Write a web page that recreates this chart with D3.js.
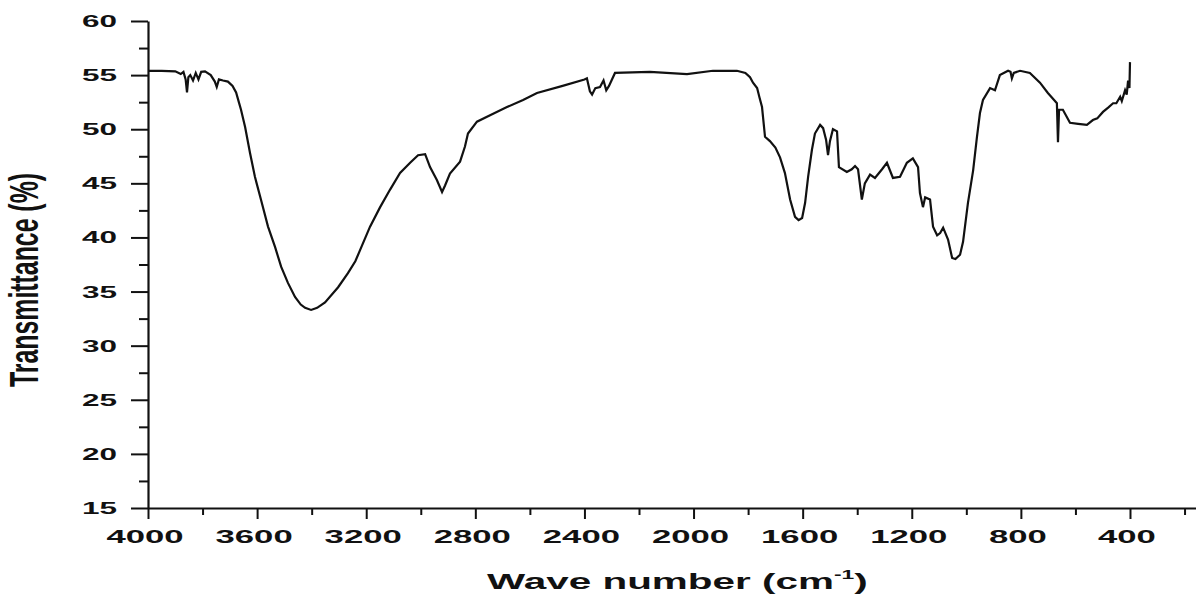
<!DOCTYPE html>
<html>
<head>
<meta charset="utf-8">
<script src="https://cdn.jsdelivr.net/npm/d3@7"></script>
<style>
  html, body { margin: 0; padding: 0; background: #fff; }
  svg { display: block; font-family: "Liberation Sans", Arial, sans-serif; }
</style>
</head>
<body>
<svg id="chart" width="1196" height="597"></svg>
<script>
// FTIR spectrum: wave number (cm-1) vs transmittance (%)
const waveNumber = [
  4000, 3950, 3900, 3880, 3870, 3862, 3857, 3852, 3845, 3835, 3825, 3815, 3805, 3791,
  3770, 3755, 3748, 3740, 3725, 3707, 3690, 3677, 3668, 3659, 3644, 3626, 3608, 3586,
  3560, 3534, 3512, 3487, 3461, 3440, 3424, 3402, 3380, 3351, 3303, 3267, 3240, 3223,
  3186, 3149, 3113, 3076, 3039, 3010, 2984, 2966, 2941, 2922, 2911, 2893, 2856, 2838,
  2827, 2794, 2746, 2684, 2625, 2574, 2480, 2400, 2391, 2380, 2372, 2360, 2343, 2330,
  2320, 2310, 2288, 2160, 2024, 1929, 1841, 1810, 1793, 1782, 1767, 1758, 1749, 1738,
  1720, 1700, 1683, 1665, 1646, 1628, 1615, 1602, 1591, 1580, 1566, 1555, 1536, 1525,
  1514, 1507, 1500, 1489, 1474, 1467, 1438, 1420, 1408, 1397, 1383, 1372, 1353, 1335,
  1309, 1291, 1269, 1243, 1218, 1196, 1177, 1170, 1159, 1151, 1133, 1122, 1107, 1096,
  1085, 1067, 1052, 1040, 1023, 1012, 994, 975, 961, 950, 939, 913, 895, 877,
  847, 838, 833, 826, 803, 767, 730, 701, 675, 668, 664, 660, 646, 620,
  590, 558, 536, 520, 499, 480, 462, 450, 436, 430, 418, 412, 407, 402, 400
];
const transmittance = [
  55.4, 55.4, 55.35, 55.1, 55.3, 54.6, 53.4, 54.8, 55.0, 54.5, 55.2, 54.6, 55.3, 55.35,
  55.0, 54.4, 53.9, 54.6, 54.5, 54.4, 54.0, 53.4, 52.6, 51.8, 50.2, 47.8, 45.6, 43.5,
  41.0, 39.1, 37.3, 35.8, 34.5, 33.8, 33.5, 33.3, 33.5, 34.0, 35.4, 36.7, 37.8, 38.8,
  41.0, 42.8, 44.4, 45.95, 46.9, 47.6, 47.7, 46.5, 45.3, 44.2, 44.8, 45.9, 47.0, 48.4,
  49.6, 50.7, 51.3, 52.05, 52.7, 53.35, 54.0, 54.6, 54.7, 53.5, 53.2, 53.8, 53.9, 54.5,
  53.6, 54.0, 55.2, 55.3, 55.1, 55.4, 55.4, 55.2, 54.8, 54.3, 53.8, 52.9, 52.05, 49.3,
  48.9, 48.3, 47.4, 45.95, 43.5, 41.9, 41.6, 41.8, 43.2, 45.6, 48.1, 49.6, 50.4, 50.1,
  49.0, 47.6, 48.9, 50.0, 49.8, 46.5, 46.05, 46.3, 46.6, 46.3, 43.5, 45.0, 45.8, 45.5,
  46.3, 46.9, 45.5, 45.6, 46.9, 47.3, 46.5, 44.1, 42.8, 43.7, 43.5, 41.0, 40.2, 40.4,
  40.9, 39.8, 38.1, 38.0, 38.4, 39.6, 43.2, 46.2, 49.3, 51.5, 52.7, 53.8, 53.6, 55.0,
  55.4, 55.3, 54.7, 55.2, 55.4, 55.2, 54.3, 53.35, 52.6, 52.4, 48.8, 51.8, 51.8, 50.6,
  50.5, 50.4, 50.85, 51.0, 51.6, 52.0, 52.4, 52.4, 53.0, 52.6, 53.6, 53.2, 54.5, 53.8, 56.2
];
const xTickValues = [4000, 3600, 3200, 2800, 2400, 2000, 1600, 1200, 800, 400];
const yTickValues = [15, 20, 25, 30, 35, 40, 45, 50, 55, 60];
const xTitle = "Wave number (cm";
const xTitleSup = "-1";
const yTitle = "Transmittance (%)";

const svg = d3.select("#chart");
const plot = { left: 148, right: 1196, top: 21, bottom: 508 };

const x = d3.scaleLinear().domain([4000, 158]).range([plot.left, plot.right]);
const y = d3.scaleLinear().domain([15, 60]).range([plot.bottom, plot.top]);

const ink = "#111";

// y axis: major ticks every 5, minor at the midpoints, all pointing outward
const yAxis = d3.axisLeft(y).tickValues(yTickValues).tickSize(17).tickSizeOuter(0).tickFormat(d => d);
const gy = svg.append("g").attr("transform", `translate(${plot.left},0)`).call(yAxis);
gy.select(".domain").attr("stroke", ink).attr("stroke-width", 2.2);
gy.selectAll(".tick line").attr("stroke", ink).attr("stroke-width", 2);
gy.selectAll(".tick text").remove();
svg.append("g").attr("transform", `translate(${plot.left},0)`)
  .call(d3.axisLeft(y).tickValues(d3.range(17.5, 60, 5)).tickSize(9).tickSizeOuter(0).tickFormat(""))
  .call(g => g.select(".domain").remove())
  .selectAll(".tick line").attr("stroke", ink).attr("stroke-width", 2);

svg.append("g").selectAll("text").data(yTickValues).join("text")
  .attr("x", 117).attr("y", d => y(d) + 6)
  .attr("text-anchor", "end")
  .attr("font-size", 17).attr("font-weight", "bold").attr("fill", ink)
  .attr("textLength", d => String(d).length * 17.5)
  .attr("lengthAdjust", "spacingAndGlyphs")
  .text(d => d);

// x axis: major ticks every 400, minor every 200
const xAxis = d3.axisBottom(x).tickValues(xTickValues).tickSize(11).tickSizeOuter(0).tickFormat("");
const gx = svg.append("g").attr("transform", `translate(0,${plot.bottom})`).call(xAxis);
gx.select(".domain").attr("stroke", ink).attr("stroke-width", 2.2);
gx.selectAll(".tick line").attr("stroke", ink).attr("stroke-width", 2);
svg.append("g").attr("transform", `translate(0,${plot.bottom})`)
  .call(d3.axisBottom(x).tickValues(d3.range(3800, 150, -400)).tickSize(7).tickSizeOuter(0).tickFormat(""))
  .call(g => g.select(".domain").remove())
  .selectAll(".tick line").attr("stroke", ink).attr("stroke-width", 2);

svg.append("g").selectAll("text").data(xTickValues).join("text")
  .attr("x", d => x(d) - 3).attr("y", 543)
  .attr("text-anchor", "middle")
  .attr("font-size", 18).attr("font-weight", "bold").attr("fill", ink)
  .attr("textLength", d => String(d).length * 19.3)
  .attr("lengthAdjust", "spacingAndGlyphs")
  .text(d => d);

// spectrum trace
const spectrum = waveNumber.map((w, i) => ({ w, t: transmittance[i] }));
svg.append("path")
  .datum(spectrum)
  .attr("fill", "none")
  .attr("stroke", ink)
  .attr("stroke-width", 2.2)
  .attr("stroke-linejoin", "miter")
  .attr("d", d3.line().x(d => x(d.w)).y(d => y(d.t)));

// x axis title with superscript, stretched to its span
const xt = svg.append("g");
const xtText = xt.append("text")
  .attr("x", 0).attr("y", 0)
  .attr("font-size", 23).attr("font-weight", "bold").attr("fill", ink);
xtText.append("tspan").text(xTitle);
xtText.append("tspan").attr("font-size", 13).attr("dy", -10).text(xTitleSup);
xtText.append("tspan").attr("dy", 10).text(")");
const xw = xtText.node().getBBox().width;
xt.attr("transform", `translate(487,589) scale(${381 / xw},1)`);

// y axis title, rotated and widened across the page
const yt = svg.append("g");
const ytText = yt.append("text")
  .attr("x", 0).attr("y", 0)
  .attr("text-anchor", "middle")
  .attr("font-size", 24).attr("font-weight", "bold").attr("fill", ink)
  .attr("textLength", 214).attr("lengthAdjust", "spacingAndGlyphs")
  .text(yTitle);
yt.attr("transform", "translate(38,280) scale(1.7,1) rotate(-90)");
</script>
</body>
</html>
